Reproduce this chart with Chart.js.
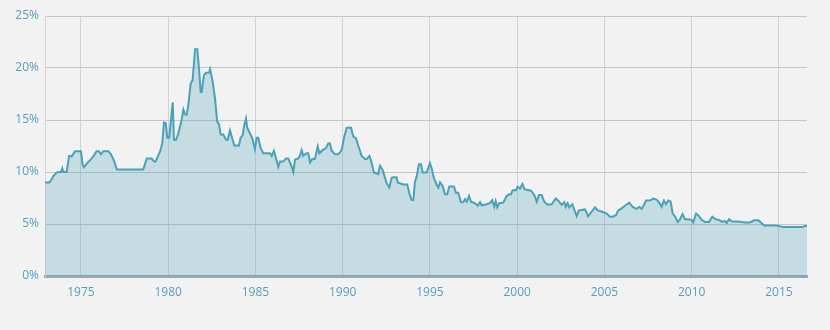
<!DOCTYPE html>
<html>
<head>
<meta charset="utf-8">
<script src="https://cdn.jsdelivr.net/npm/chart.js@4"></script>
<style>
  html, body { margin: 0; padding: 0; background: #f2f2f2; }
  #wrap { width: 830px; height: 330px; }
</style>
</head>
<body>
<div id="wrap"><canvas id="rateChart"></canvas></div>
<script>
// dates as decimal years, rates in percent
const dates = [
  1972.94, 1973.19, 1973.32, 1973.42, 1973.57, 1973.70, 1973.86, 1973.93, 1973.99, 1974.18,
  1974.32, 1974.47, 1974.66, 1975.00, 1975.10, 1975.17, 1975.33, 1975.48, 1975.71, 1975.90,
  1976.03, 1976.15, 1976.28, 1976.57, 1976.72, 1976.85, 1976.95, 1977.05, 1978.57, 1978.77,
  1979.05, 1979.19, 1979.28, 1979.38, 1979.53, 1979.66, 1979.76, 1979.86, 1979.95, 1980.06,
  1980.26, 1980.33, 1980.45, 1980.58, 1980.77, 1980.87, 1980.96, 1981.06, 1981.15, 1981.29,
  1981.40, 1981.54, 1981.67, 1981.78, 1981.86, 1981.92, 1982.05, 1982.17, 1982.34, 1982.40,
  1982.55, 1982.68, 1982.81, 1982.91, 1983.01, 1983.16, 1983.31, 1983.41, 1983.54, 1983.64,
  1983.79, 1984.06, 1984.15, 1984.27, 1984.36, 1984.46, 1984.53, 1984.69, 1984.82, 1984.97,
  1985.07, 1985.16, 1985.30, 1985.45, 1985.83, 1985.93, 1986.06, 1986.31, 1986.41, 1986.60,
  1986.75, 1986.88, 1987.08, 1987.17, 1987.27, 1987.46, 1987.55, 1987.65, 1987.74, 1987.94,
  1988.03, 1988.13, 1988.26, 1988.41, 1988.57, 1988.66, 1988.85, 1989.04, 1989.17, 1989.27,
  1989.37, 1989.56, 1989.75, 1989.94, 1990.09, 1990.23, 1990.48, 1990.61, 1990.76, 1990.89,
  1991.09, 1991.28, 1991.38, 1991.53, 1991.62, 1991.79, 1992.04, 1992.14, 1992.29, 1992.38,
  1992.52, 1992.67, 1992.81, 1992.90, 1993.09, 1993.15, 1993.47, 1993.70, 1993.82, 1993.95,
  1994.05, 1994.14, 1994.24, 1994.37, 1994.49, 1994.58, 1994.81, 1995.00, 1995.10, 1995.23,
  1995.39, 1995.48, 1995.58, 1995.73, 1995.86, 1995.99, 1996.11, 1996.38, 1996.49, 1996.62,
  1996.78, 1996.91, 1997.01, 1997.11, 1997.24, 1997.35, 1997.58, 1997.74, 1997.87, 1997.97,
  1998.25, 1998.44, 1998.57, 1998.69, 1998.77, 1998.86, 1998.97, 1999.20, 1999.40, 1999.55,
  1999.65, 1999.74, 1999.93, 2000.03, 2000.16, 2000.30, 2000.41, 2000.79, 2000.98, 2001.12,
  2001.25, 2001.40, 2001.55, 2001.75, 2001.98, 2002.21, 2002.36, 2002.55, 2002.70, 2002.78,
  2002.89, 2002.99, 2003.16, 2003.41, 2003.54, 2003.89, 2004.07, 2004.27, 2004.46, 2004.61,
  2004.84, 2005.13, 2005.32, 2005.47, 2005.66, 2005.79, 2005.99, 2006.18, 2006.42, 2006.62,
  2006.85, 2007.00, 2007.13, 2007.27, 2007.38, 2007.61, 2007.80, 2007.99, 2008.14, 2008.28,
  2008.41, 2008.53, 2008.66, 2008.80, 2008.91, 2009.04, 2009.20, 2009.33, 2009.48, 2009.62,
  2009.81, 2010.00, 2010.09, 2010.25, 2010.38, 2010.57, 2010.76, 2010.99, 2011.18, 2011.38,
  2011.56, 2011.75, 2011.91, 2012.01, 2012.14, 2012.29, 2012.67, 2013.05, 2013.34, 2013.59,
  2013.82, 2013.97, 2014.16, 2014.87, 2015.25, 2016.31, 2016.50, 2016.61
];
const rates = [
  9.0, 9.0, 9.3, 9.6, 9.9, 10.0, 10.0, 10.35, 10.0, 10.0,
  11.55, 11.5, 12.0, 12.0, 10.7, 10.45, 10.8, 11.05, 11.5, 12.0,
  12.0, 11.7, 12.0, 12.0, 11.7, 11.25, 10.8, 10.25, 10.25, 11.3,
  11.3, 11.0, 11.0, 11.4, 11.95, 12.75, 14.75, 14.7, 13.3, 13.3,
  16.7, 13.1, 13.1, 13.7, 15.0, 16.0, 15.55, 15.5, 16.4, 18.5,
  18.85, 21.8, 21.8, 19.65, 17.7, 17.7, 19.3, 19.55, 19.55, 19.9,
  18.7, 17.1, 14.85, 14.6, 13.6, 13.6, 13.1, 13.1, 14.0, 13.4,
  12.55, 12.55, 13.3, 13.55, 14.5, 15.15, 14.25, 13.7, 13.25, 12.2,
  13.3, 13.3, 12.3, 11.8, 11.8, 11.55, 12.05, 10.5, 11.0, 11.0,
  11.3, 11.3, 10.5, 10.0, 11.2, 11.3, 11.55, 12.1, 11.55, 11.8,
  11.8, 10.9, 11.25, 11.25, 12.45, 11.8, 12.1, 12.3, 12.75, 12.75,
  12.05, 11.7, 11.7, 12.1, 13.4, 14.25, 14.25, 13.4, 13.25, 12.55,
  11.55, 11.25, 11.25, 11.55, 11.15, 9.95, 9.8, 10.6, 10.2, 9.7,
  8.9, 8.5, 9.45, 9.5, 9.5, 9.0, 8.8, 8.8, 7.95, 7.3,
  7.3, 9.05, 9.55, 10.75, 10.75, 9.95, 9.95, 10.85, 10.35, 9.4,
  8.75, 8.5, 9.0, 8.65, 7.85, 7.85, 8.6, 8.6, 8.0, 8.0,
  7.1, 7.1, 7.4, 7.15, 7.7, 7.15, 7.0, 6.75, 7.1, 6.8,
  6.9, 7.0, 7.3, 6.65, 7.2, 6.6, 7.0, 7.05, 7.7, 7.85,
  7.85, 8.25, 8.25, 8.6, 8.4, 8.85, 8.35, 8.2, 7.8, 7.15,
  7.8, 7.8, 7.15, 6.85, 6.9, 7.45, 7.25, 6.85, 7.1, 6.65,
  7.0, 6.6, 6.9, 5.75, 6.3, 6.4, 5.75, 6.2, 6.6, 6.3,
  6.2, 6.0, 5.7, 5.7, 5.85, 6.3, 6.5, 6.75, 7.05, 6.65,
  6.45, 6.65, 6.45, 6.85, 7.25, 7.25, 7.45, 7.35, 7.05, 6.65,
  7.25, 6.9, 7.25, 7.15, 6.0, 5.75, 5.2, 5.45, 5.95, 5.45,
  5.45, 5.4, 5.15, 6.0, 5.85, 5.4, 5.2, 5.2, 5.7, 5.45,
  5.4, 5.2, 5.3, 5.1, 5.45, 5.25, 5.25, 5.15, 5.15, 5.35,
  5.35, 5.15, 4.85, 4.85, 4.7, 4.7, 4.8, 4.8
];
const yearTicks = [1975, 1980, 1985, 1990, 1995, 2000, 2005, 2010, 2015];
const rateTicks = [0, 5, 10, 15, 20, 25];

const tickColor = "#559fba";
const points = dates.map((d, i) => ({ x: d, y: rates[i] }));

const ctx = document.getElementById("rateChart").getContext("2d");

new Chart(ctx, {
    type: "line",
    data: {
        datasets: [{
            data: points,
            borderColor: "#4aa2b8",
            borderWidth: 2,
            backgroundColor: "rgba(70, 160, 185, 0.26)",
            fill: "origin",
            pointRadius: 0,
            tension: 0
        }]
    },
    options: {
        responsive: true,
        maintainAspectRatio: false,
        animation: false,
        layout: { padding: { top: 16, right: 23, bottom: 24, left: 0 } },
        plugins: {
            legend: { display: false },
            tooltip: { enabled: false }
        },
        scales: {
            x: {
                type: "linear",
                min: 1972.94,
                max: 2016.61,
                afterBuildTicks: axis => { axis.ticks = yearTicks.map(v => ({ value: v })); },
                afterFit: axis => { axis.height = 30; },
                grid: { color: "#d2d2d2", drawTicks: false },
                border: { color: "#98a9ae", width: 3 },
                ticks: {
                    color: tickColor,
                    padding: 9,
                    font: { family: "Open Sans", size: 12 },
                    callback: v => String(v)
                }
            },
            y: {
                min: 0,
                max: 25,
                afterBuildTicks: axis => { axis.ticks = rateTicks.map(v => ({ value: v })); },
                afterFit: axis => { axis.width = 45; },
                grid: { color: "#c6c6c6", drawTicks: false },
                border: { color: "#d6d6d6", width: 1 },
                ticks: {
                    color: tickColor,
                    padding: 6,
                    font: { family: "Open Sans", size: 12 },
                    callback: v => v + "%"
                }
            }
        }
    }
});
</script>
</body>
</html>
